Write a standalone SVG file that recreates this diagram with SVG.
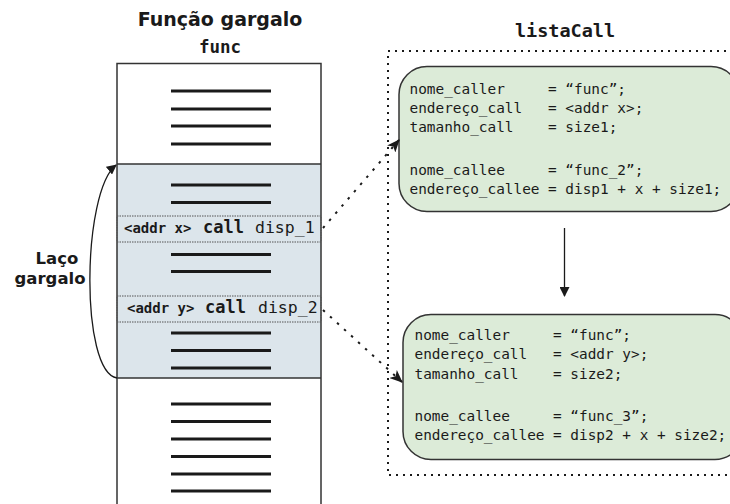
<svg xmlns="http://www.w3.org/2000/svg" width="730" height="504" viewBox="0 0 730 504">
<style>
.title{font-family:"DejaVu Sans",sans-serif;font-weight:bold;fill:#1a1a1a}
.mono{font-family:"DejaVu Sans Mono",monospace;fill:#1a1a1a}
.mb{font-family:"DejaVu Sans Mono",monospace;font-weight:bold;fill:#1a1a1a}
.bar{stroke:#1a1a1a;stroke-width:3}
.frame{fill:none;stroke:#333;stroke-width:1.5}
.cbox{stroke:#555;stroke-width:1;stroke-dasharray:1.5,1;fill:none}
.rec{fill:#dcebd8;stroke:#333;stroke-width:1.5}
.rt{font-family:"DejaVu Sans Mono",monospace;font-size:14.4px;fill:#1a1a1a}
.dot{fill:none;stroke:#1a1a1a;stroke-width:2;stroke-dasharray:2.5,7}
</style>
<defs>
<marker id="ah" viewBox="0 0 10 10" refX="9" refY="5" markerWidth="10" markerHeight="10" markerUnits="userSpaceOnUse" orient="auto">
<path d="M0,0 L10,5 L0,10 Z" fill="#1a1a1a"/>
</marker>
<marker id="ah2" viewBox="0 0 12 10" refX="11" refY="5" markerWidth="13" markerHeight="11" markerUnits="userSpaceOnUse" orient="auto">
<path d="M0,0 L12,5 L0,10 L3,5 Z" fill="#1a1a1a"/>
</marker>
</defs>
<rect width="730" height="504" fill="#fff"/>

<g id="func">
<text class="title" x="220" y="26" text-anchor="middle" font-size="19">Função gargalo</text>
<text class="mb" x="220" y="53" text-anchor="middle" font-size="17.5">func</text>
<rect x="117" y="63.5" width="204" height="450" fill="#fff"/>
<rect x="117" y="164" width="204" height="214" fill="#dce5eb"/>
<rect class="frame" x="117" y="63.5" width="204" height="450"/>
<line x1="117" y1="164" x2="321" y2="164" stroke="#333" stroke-width="1.5"/>
<line x1="117" y1="378" x2="321" y2="378" stroke="#333" stroke-width="1.5"/>
<g class="bar">
<line x1="171" y1="91" x2="271" y2="91"/>
<line x1="171" y1="109" x2="271" y2="109"/>
<line x1="171" y1="126" x2="271" y2="126"/>
<line x1="171" y1="144" x2="271" y2="144"/>
<line x1="171" y1="185" x2="271" y2="185"/>
<line x1="171" y1="202.5" x2="271" y2="202.5"/>
<line x1="171" y1="254.5" x2="271" y2="254.5"/>
<line x1="171" y1="271.5" x2="271" y2="271.5"/>
<line x1="171" y1="333" x2="271" y2="333"/>
<line x1="171" y1="350.5" x2="271" y2="350.5"/>
<line x1="171" y1="368" x2="271" y2="368"/>
<line x1="171" y1="404" x2="271" y2="404"/>
<line x1="171" y1="421.5" x2="271" y2="421.5"/>
<line x1="171" y1="439" x2="271" y2="439"/>
<line x1="171" y1="456.5" x2="271" y2="456.5"/>
<line x1="171" y1="474" x2="271" y2="474"/>
<line x1="171" y1="491" x2="271" y2="491"/>
</g>
</g>

<g id="call1">
<rect class="cbox" x="117" y="216" width="204" height="26"/>
<text x="124" y="233"><tspan class="mb" font-size="14">&lt;addr x&gt;</tspan><tspan class="mb" font-size="17" x="203">call</tspan><tspan class="mono" font-size="16.5" x="255">disp_1</tspan></text>
</g>
<g id="call2">
<rect class="cbox" x="117" y="296" width="204" height="26"/>
<text x="127" y="313"><tspan class="mb" font-size="14">&lt;addr y&gt;</tspan><tspan class="mb" font-size="17" x="205">call</tspan><tspan class="mono" font-size="16.5" x="258">disp_2</tspan></text>
</g>

<g id="loop-label">
<text class="title" x="57" y="264" text-anchor="middle" font-size="16.5">Laço</text>
<text class="title" x="50" y="284" text-anchor="middle" font-size="16.5">gargalo</text>
</g>

<g id="listaCall">
<text class="mb" x="565" y="37" text-anchor="middle" font-size="18.5">listaCall</text>
<path d="M740,51 H388 V475 H740" fill="none" stroke="#1a1a1a" stroke-width="2" stroke-dasharray="2,5"/>
</g>

<g id="rec1">
<rect class="rec" x="399" y="66.5" width="340" height="145" rx="28" ry="28"/>
<text class="rt" x="409.5" y="93.5">nome_caller<tspan x="548">= “func”;</tspan></text>
<text class="rt" x="409.5" y="112.5">endereço_call<tspan x="548">= &lt;addr x&gt;;</tspan></text>
<text class="rt" x="409.5" y="131.5">tamanho_call<tspan x="548">= size1;</tspan></text>
<text class="rt" x="409.5" y="175">nome_callee<tspan x="548">= “func_2”;</tspan></text>
<text class="rt" x="409.5" y="194">endereço_callee<tspan x="548">= disp1 + x + size1;</tspan></text>
</g>

<g id="rec2">
<rect class="rec" x="403" y="314.5" width="340" height="145" rx="28" ry="28"/>
<text class="rt" x="414.5" y="339.5">nome_caller<tspan x="553">= “func”;</tspan></text>
<text class="rt" x="414.5" y="359">endereço_call<tspan x="553">= &lt;addr y&gt;;</tspan></text>
<text class="rt" x="414.5" y="378.5">tamanho_call<tspan x="553">= size2;</tspan></text>
<text class="rt" x="414.5" y="421">nome_callee<tspan x="553">= “func_3”;</tspan></text>
<text class="rt" x="414.5" y="440">endereço_callee<tspan x="553">= disp2 + x + size2;</tspan></text>
</g>

<g id="connectors">
<path d="M117,378 C80,372 82,192 116,165" fill="none" stroke="#1a1a1a" stroke-width="1.3" marker-end="url(#ah)"/>
<line x1="564.5" y1="228" x2="564.5" y2="296" stroke="#1a1a1a" stroke-width="1.3" marker-end="url(#ah)"/>
<line class="dot" x1="323" y1="228" x2="399" y2="140" marker-end="url(#ah2)"/>
<line class="dot" x1="323" y1="310" x2="402" y2="382" marker-end="url(#ah2)"/>
</g>
</svg>
